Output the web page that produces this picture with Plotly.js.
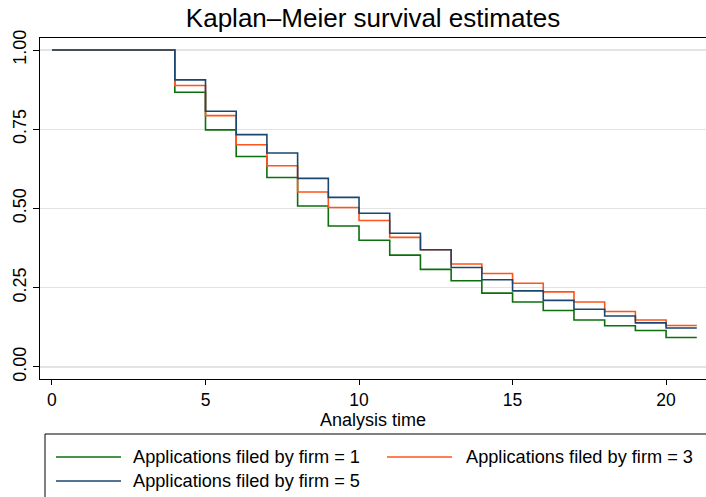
<!DOCTYPE html>
<html>
<head>
<meta charset="utf-8">
<script src="https://cdn.plot.ly/plotly-3.0.1.min.js"></script>
<style>html,body{margin:0;padding:0;background:#fff;}#chart{width:706px;height:497px;}</style>
</head>
<body>
<div id="chart"></div>
<script>
// Step times (analysis time) and Kaplan–Meier survival estimates per group
var times = [0, 4, 5, 6, 7, 8, 9, 10, 11, 12, 13, 14, 15, 16, 17, 18, 19, 20, 21];
var survFirm1 = [1.000, 0.867, 0.748, 0.664, 0.598, 0.508, 0.445, 0.400, 0.353, 0.308, 0.272, 0.233, 0.205, 0.178, 0.148, 0.130, 0.115, 0.093, 0.093];
var survFirm3 = [1.000, 0.888, 0.793, 0.701, 0.635, 0.552, 0.503, 0.462, 0.409, 0.370, 0.325, 0.295, 0.264, 0.237, 0.205, 0.175, 0.148, 0.131, 0.131];
var survFirm5 = [1.000, 0.906, 0.807, 0.733, 0.675, 0.595, 0.535, 0.485, 0.422, 0.370, 0.314, 0.275, 0.240, 0.210, 0.182, 0.161, 0.139, 0.123, 0.123];
var groupNames = ["Applications filed by firm = 1", "Applications filed by firm = 3", "Applications filed by firm = 5"];
var groupColors = ["#0c6e0c", "#ff5419", "#1a476f"];
var xTicks = [0, 5, 10, 15, 20];
var yTicks = [0, 0.25, 0.5, 0.75, 1];

var series = [survFirm1, survFirm3, survFirm5];
var traces = series.map(function (s, i) {
  return {
    x: times, y: s, type: "scatter", mode: "lines",
    line: {shape: "hv", color: groupColors[i], width: 1.6},
    name: groupNames[i], showlegend: false, hoverinfo: "x+y"
  };
});

var font = "Liberation Sans, Arial, Helvetica, sans-serif";

var W = 706, H = 497;
var ml = 40, mr = 0, mt = 38, mb = 118;
var pw = W - ml - mr, ph = H - mt - mb;
function px2x(p) { return (p - ml) / pw; }
function py2y(p) { return (H - mb - p) / ph; }

var legendItems = [
  {x0: 56, x1: 121, tx: 131, y: 457},
  {x0: 387, x1: 452, tx: 464, y: 457},
  {x0: 56, x1: 121, tx: 131, y: 481}
];
var shapes = [{
  type: "rect", xref: "paper", yref: "paper",
  x0: px2x(45), x1: px2x(730), y0: py2y(510), y1: py2y(434),
  line: {color: "#000", width: 1}, fillcolor: "rgba(0,0,0,0)"
}];
var annotations = [{
  xref: "paper", yref: "paper", x: 0.5, y: py2y(420),
  xanchor: "center", yanchor: "middle", showarrow: false,
  text: "Analysis time", font: {family: font, size: 18, color: "#000"}
}];
legendItems.forEach(function (it, i) {
  shapes.push({
    type: "line", xref: "paper", yref: "paper",
    x0: px2x(it.x0), x1: px2x(it.x1), y0: py2y(it.y), y1: py2y(it.y),
    line: {color: groupColors[i], width: 1.6}
  });
  annotations.push({
    xref: "paper", yref: "paper", x: px2x(it.tx), y: py2y(it.y),
    xanchor: "left", yanchor: "middle", showarrow: false,
    text: groupNames[i], font: {family: font, size: 18.2, color: "#000"}
  });
});

var layout = {
  width: W, height: H,
  margin: {l: ml, r: mr, t: mt, b: mb, pad: 0},
  paper_bgcolor: "#fff", plot_bgcolor: "#fff",
  font: {family: font, color: "#000"},
  title: {text: "Kaplan–Meier survival estimates", font: {family: font, size: 26, color: "#000"},
          x: 0.5, xref: "paper", xanchor: "center", y: 1 - 18 / H, yref: "container", yanchor: "middle"},
  xaxis: {
    range: [-0.39, 21.3], tickvals: xTicks, ticktext: xTicks.map(String),
    ticks: "outside", ticklen: 5, tickcolor: "#000", tickwidth: 1,
    showline: true, linecolor: "#000", linewidth: 1.2, mirror: true,
    showgrid: false, zeroline: false,
    tickfont: {family: font, size: 17.5, color: "#000"}
  },
  yaxis: {
    range: [-0.038, 1.038], tickvals: yTicks, ticktext: yTicks.map(function (v) { return v.toFixed(2); }),
    tickangle: -90, ticks: "outside", ticklen: 6, tickcolor: "#000", tickwidth: 1,
    showline: true, linecolor: "#000", linewidth: 1.2, mirror: false,
    showgrid: true, gridcolor: "#e3e3e3", gridwidth: 1.2, zeroline: false,
    tickfont: {family: font, size: 18, color: "#000"}
  },
  shapes: shapes,
  annotations: annotations,
  showlegend: false
};

Plotly.newPlot("chart", traces, layout, {displayModeBar: false, staticPlot: true});
</script>
</body>
</html>
